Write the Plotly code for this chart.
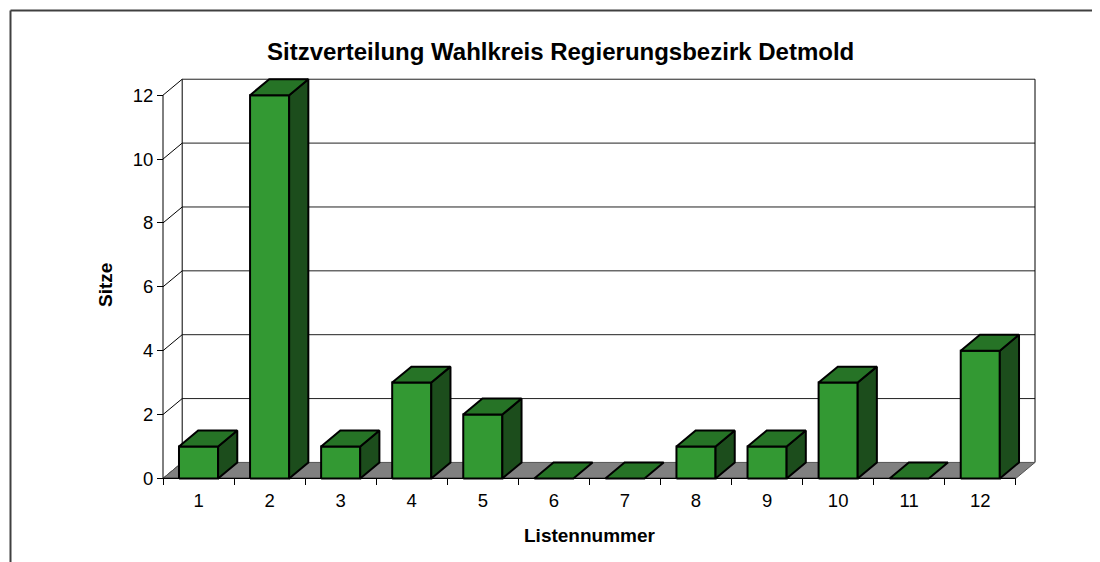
import plotly.graph_objects as go

# ---- data ----
categories = [1, 2, 3, 4, 5, 6, 7, 8, 9, 10, 11, 12]
seats = [1, 12, 1, 3, 2, 0, 0, 1, 1, 3, 0, 4]
y_ticks = [0, 2, 4, 6, 8, 10, 12]
title_text = "Sitzverteilung Wahlkreis Regierungsbezirk Detmold"
x_title = "Listennummer"
y_title = "Sitze"

# ---- style ----
OFF = 8                      # page body margin in the browser
W, H = 1100 - OFF, 562 - OFF
L, R, T, B = 140, 56, 62, 74
PW, PH = W - L - R, H - T - B
DX, DY = 0.27, 0.5          # 3D depth offsets in axis units
BAR_W = 0.55
FRONT, TOP, SIDE = "#339933", "#267326", "#1c4d1c"
FONT = "Liberation Sans, Arial, sans-serif"

n = len(categories)
x_lo, x_hi = 0.5, n + 0.5
ymax = max(y_ticks)
# screen targets: front axis x=163, back right x=1035, y0 at 478.4, y12 at 95.2
pxu_x = (1035 - 163) / (n + DX)
pxu_y = (478.4 - 95.2) / ymax
left_px = L + OFF
bottom_px = H - B + OFF
xr0 = x_lo - (163 - left_px) / pxu_x
xr1 = xr0 + PW / pxu_x
yr0 = -(bottom_px - 478.4) / pxu_y
yr1 = yr0 + PH / pxu_y

fig = go.Figure()


def seg_trace(xs, ys, color="black", width=1):
    fig.add_trace(go.Scatter(x=xs, y=ys, mode="lines", line=dict(color=color, width=width),
                             hoverinfo="skip", showlegend=False))


def poly(xs, ys, fill, lw=2, lc="black"):
    fig.add_trace(go.Scatter(x=xs + [xs[0]], y=ys + [ys[0]], mode="lines", fill="toself",
                             fillcolor=fill, line=dict(color=lc, width=lw),
                             hoverinfo="skip", showlegend=False))


# back wall gridlines
gx, gy = [], []
for v in y_ticks[1:]:
    gx += [x_lo + DX, x_hi + DX, None]
    gy += [v + DY, v + DY, None]
seg_trace(gx, gy, "#202020", 1)
# back wall edges
seg_trace([x_lo + DX, x_lo + DX], [DY, ymax + DY], "black", 1)
seg_trace([x_hi + DX, x_hi + DX], [DY, ymax + DY], "black", 1)
# side slant lines at ticks
sx, sy = [], []
for v in y_ticks:
    sx += [x_lo, x_lo + DX, None]
    sy += [v, v + DY, None]
seg_trace(sx, sy, "black", 1)
# front y axis line
seg_trace([x_lo, x_lo], [0, ymax], "black", 1)

# floor
poly([x_lo, x_hi, x_hi + DX, x_lo + DX], [0, 0, DY, DY], "#808080", 1, "#555555")
seg_trace([x_lo, x_hi], [0, 0], "black", 1.2)

# bars
for c, v in zip(categories, seats):
    a, b = c - BAR_W / 2, c + BAR_W / 2
    if v > 0:
        poly([a, b, b, a], [0, 0, v, v], FRONT)
        poly([b, b + DX, b + DX, b], [0, DY, v + DY, v], SIDE)
    poly([a, b, b + DX, a + DX], [v, v, v + DY, v + DY], TOP)


def px2paper_x(px):
    return (px - OFF - L) / PW


def px2paper_y(py):
    return (H - B - (py - OFF)) / PH


# outer frame (cut off at right and bottom)
fig.add_shape(type="line", xref="paper", yref="paper",
              x0=px2paper_x(10.5), y0=px2paper_y(600), x1=px2paper_x(10.5), y1=px2paper_y(10.5),
              line=dict(color="#404040", width=2))
fig.add_shape(type="line", xref="paper", yref="paper",
              x0=px2paper_x(10.5), y0=px2paper_y(10.5), x1=px2paper_x(1200), y1=px2paper_y(10.5),
              line=dict(color="#404040", width=2))

ann = dict(xref="paper", yref="paper", showarrow=False, xanchor="center", yanchor="middle")
fig.add_annotation(text=f"<b>{title_text}</b>", x=px2paper_x(560), y=px2paper_y(51),
                   font=dict(family=FONT, size=24, color="black"), **ann)
fig.add_annotation(text=f"<b>{x_title}</b>", x=px2paper_x(590), y=px2paper_y(535),
                   font=dict(family=FONT, size=19, color="black"), **ann)
fig.add_annotation(text=f"<b>{y_title}</b>", x=px2paper_x(105), y=px2paper_y(285), textangle=-90,
                   font=dict(family=FONT, size=19, color="black"), **ann)

fig.update_layout(
    width=W, height=H,
    margin=dict(l=L, r=R, t=T, b=B, pad=0),
    paper_bgcolor="white", plot_bgcolor="rgba(0,0,0,0)",
    showlegend=False,
    xaxis=dict(range=[xr0, xr1], showgrid=False, zeroline=False, showline=False,
               tickvals=categories, ticktext=[str(c) for c in categories],
               ticks="outside", ticklen=5, tickcolor="rgba(0,0,0,0)",
               tickfont=dict(family=FONT, size=18.5, color="black"),
               anchor="free", position=(bottom_px - 478.4) / PH,
               minor=dict(tickvals=[x_lo + i for i in range(n + 1)], ticks="outside",
                          ticklen=6, tickcolor="black", tickwidth=1, showgrid=False),
               fixedrange=True),
    yaxis=dict(range=[yr0, yr1], showgrid=False, zeroline=False, showline=False,
               tickvals=y_ticks, ticks="outside", ticklen=6, tickcolor="black",
               tickfont=dict(family=FONT, size=18.5, color="black"),
               anchor="free", position=(163 - left_px) / PW, fixedrange=True),
)

fig.write_html("out.html")
